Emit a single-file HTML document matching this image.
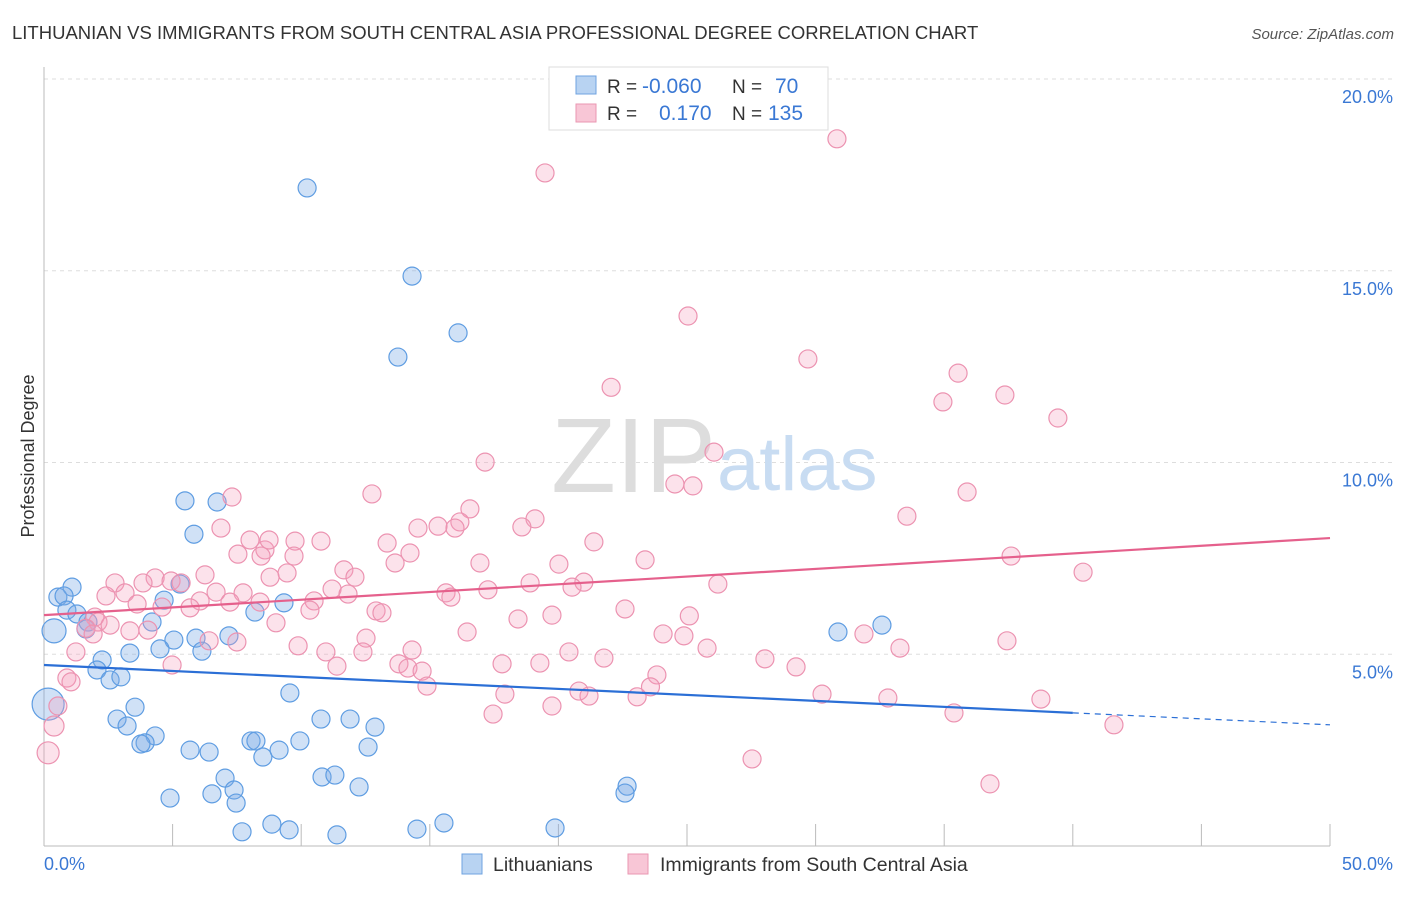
<!DOCTYPE html>
<html><head><meta charset="utf-8"><style>
body{margin:0;background:#fff;font-family:"Liberation Sans",sans-serif;}
svg text{font-family:"Liberation Sans",sans-serif;}
</style></head><body>
<svg id="chart" width="1406" height="892" xmlns="http://www.w3.org/2000/svg">
<text x="12" y="39" font-size="18.5" fill="#333">LITHUANIAN VS IMMIGRANTS FROM SOUTH CENTRAL ASIA PROFESSIONAL DEGREE CORRELATION CHART</text>
<text x="1394" y="39" font-size="15" fill="#555" text-anchor="end" font-style="italic">Source: ZipAtlas.com</text>
<text x="34" y="456" font-size="18" fill="#333" text-anchor="middle" transform="rotate(-90 34 456)">Professional Degree</text>
<g id="grid"></g>
<text x="716" y="492" font-size="106" fill="#ddd" text-anchor="end" font-family="Liberation Serif">ZIP</text>
<text x="717" y="490" font-size="76" fill="#c8dcf2">atlas</text>
<g id="pts"></g>
<g id="lines"></g>
<g id="ticks"></g>
<g>
<rect x="549" y="67" width="279" height="63" fill="#fff" stroke="#ddd"/>
<rect x="576" y="76" width="20" height="18" fill="#b8d3f2" stroke="#6fa3e0"/>
<rect x="576" y="104" width="20" height="18" fill="#f8c6d6" stroke="#ea97b2"/>
<text x="607" y="93" font-size="19" fill="#333">R = </text><text x="642" y="93" font-size="21" fill="#3a78d4">-0.060</text>
<text x="732" y="93" font-size="19" fill="#333">N = </text><text x="775" y="93" font-size="21" fill="#3a78d4">70</text>
<text x="607" y="120" font-size="19" fill="#333">R = </text><text x="659" y="120" font-size="21" fill="#3a78d4">0.170</text>
<text x="732" y="120" font-size="19" fill="#333">N = </text><text x="768" y="120" font-size="21" fill="#3a78d4">135</text>
</g>
<g>
<rect x="462" y="854" width="20" height="20" fill="#b8d3f2" stroke="#6fa3e0"/>
<text x="493" y="871" font-size="19.5" fill="#333">Lithuanians</text>
<rect x="628" y="854" width="20" height="20" fill="#f8c6d6" stroke="#ea97b2"/>
<text x="660" y="871" font-size="19.5" fill="#333">Immigrants from South Central Asia</text>
</g>
</svg>
<script>
const blueX=[10.23,14.31,16.10,13.76,5.48,6.73,5.83,1.09,0.54,0.78,0.89,1.28,0.39,1.71,1.63,4.20,4.67,5.29,8.20,9.33,5.91,5.05,4.51,6.14,7.19,3.34,2.26,2.06,2.57,2.99,0.16,9.56,3.54,2.84,3.23,4.32,3.93,3.77,5.68,6.42,8.05,8.24,8.51,9.14,9.95,10.77,11.90,12.87,12.60,7.04,6.53,7.39,7.47,4.90,10.81,11.31,12.25,7.70,8.86,9.53,11.39,14.50,15.55,19.87,22.67,22.59,30.87,32.58];
const blueY=[17.16,14.86,13.38,12.75,9.00,8.97,8.13,6.75,6.49,6.52,6.15,6.05,5.61,5.84,5.66,5.84,6.41,6.83,6.10,6.34,5.42,5.37,5.14,5.08,5.48,5.03,4.85,4.59,4.33,4.41,3.70,3.99,3.62,3.31,3.13,2.87,2.69,2.66,2.50,2.45,2.74,2.74,2.32,2.50,2.74,3.31,3.31,3.10,2.58,1.77,1.36,1.46,1.12,1.25,1.80,1.85,1.54,0.37,0.57,0.42,0.29,0.44,0.60,0.47,1.56,1.38,5.58,5.76];
const pinkX=[30.83,19.48,25.04,29.70,35.54,22.05,34.95,37.36,39.42,26.05,17.15,24.53,25.23,35.89,7.31,12.75,16.56,33.55,19.09,15.32,16.17,14.54,15.98,18.58,6.88,8.59,8.01,8.75,9.76,10.77,13.34,21.38,7.54,8.44,9.72,14.23,23.37,37.60,16.95,20.02,11.66,13.65,40.40,9.45,6.26,4.32,8.79,12.09,4.94,5.33,2.76,3.85,26.20,18.90,20.99,20.53,17.26,11.20,3.15,2.41,6.69,7.74,8.40,11.82,15.63,15.82,3.62,6.07,5.68,10.50,4.59,7.23,10.34,12.91,13.14,22.59,25.09,19.75,18.43,1.98,2.10,2.57,1.63,1.91,4.04,3.34,9.02,7.50,12.52,16.45,24.07,24.88,31.88,37.44,6.42,9.88,10.96,12.40,14.31,20.41,25.78,33.28,1.24,4.98,11.39,13.80,14.15,14.70,17.81,19.28,21.77,28.03,29.24,23.83,0.89,1.05,14.89,23.58,17.92,20.80,21.19,23.06,30.25,32.81,38.76,19.75,17.46,35.38,41.60,0.54,0.39,0.16,27.53,36.78];
const pinkY=[18.44,17.55,13.82,12.70,12.33,11.96,11.58,11.76,11.16,10.27,10.01,9.44,9.39,9.23,9.10,9.18,8.79,8.60,8.53,8.34,8.45,8.29,8.29,8.32,8.29,7.72,7.98,7.98,7.95,7.95,7.90,7.93,7.61,7.56,7.56,7.64,7.46,7.56,7.38,7.35,7.20,7.38,7.14,7.12,7.07,6.99,7.01,7.01,6.91,6.86,6.86,6.86,6.83,6.86,6.88,6.75,6.68,6.70,6.60,6.52,6.62,6.60,6.36,6.57,6.60,6.49,6.31,6.39,6.21,6.39,6.23,6.36,6.15,6.13,6.08,6.18,6.00,6.02,5.92,5.97,5.84,5.76,5.68,5.53,5.63,5.61,5.82,5.32,5.42,5.58,5.53,5.48,5.53,5.35,5.35,5.22,5.06,5.06,5.11,5.06,5.16,5.16,5.06,4.72,4.69,4.75,4.64,4.56,4.75,4.77,4.90,4.88,4.67,4.46,4.38,4.28,4.17,4.15,3.96,4.04,3.91,3.89,3.96,3.86,3.83,3.65,3.44,3.47,3.16,3.65,3.13,2.43,2.27,1.62];
const blueTrend=[4.72,3.16];
const pinkTrend=[6.02,8.03];
const yTicks=[5,10,15,20];
const yTickLabels=["5.0%","10.0%","15.0%","20.0%"];
const xTickLabels=["0.0%","50.0%"];
const NS="http://www.w3.org/2000/svg";
const X0=44,X1=1330,Y0=846,Y20=79;
const sx=v=>X0+(X1-X0)*v/50;
const sy=v=>Y0-(Y0-Y20)*v/20;
function mk(t,a,p){const e=document.createElementNS(NS,t);for(const k in a)e.setAttribute(k,a[k]);p.appendChild(e);return e;}
const grid=document.getElementById('grid');
yTicks.forEach(t=>{const l=mk('line',{x1:X0,x2:1394,y1:sy(t),y2:sy(t),stroke:'#ddd','stroke-dasharray':'4,4'},grid);

});
mk('line',{x1:X0,x2:X0,y1:67,y2:Y0,stroke:'#bbb'},grid);
mk('line',{x1:X0,x2:X1,y1:Y0,y2:Y0,stroke:'#bbb'},grid);
for(let i=1;i<=10;i++){mk('line',{x1:sx(i*5),x2:sx(i*5),y1:Y0-22,y2:Y0,stroke:'#bbb'},grid);}
const pts=document.getElementById('pts');
blueX.forEach((x,i)=>{const r=i===30?16:(i===12?12:9);
const c=mk('circle',{cx:sx(x),cy:sy(blueY[i]),r:r,fill:'rgba(120,170,230,0.35)',stroke:'#5f9de2','stroke-width':1.2},pts);

});
const nP=pinkX.length;
pinkX.forEach((x,i)=>{const r=i===nP-3?11:(i===nP-4?10:9);
const c=mk('circle',{cx:sx(x),cy:sy(pinkY[i]),r:r,fill:'rgba(244,160,188,0.3)',stroke:'#ec93b1','stroke-width':1.2},pts);

});
const ln=document.getElementById('lines');
const bAt=v=>blueTrend[0]+(blueTrend[1]-blueTrend[0])*v/50;
const pAt=v=>pinkTrend[0]+(pinkTrend[1]-pinkTrend[0])*v/50;
let e=mk('line',{x1:sx(0),y1:sy(bAt(0)),x2:sx(40),y2:sy(bAt(40)),stroke:'#2b6fd6','stroke-width':2.2},ln);


e=mk('line',{x1:sx(40),y1:sy(bAt(40)),x2:sx(50),y2:sy(bAt(50)),stroke:'#2b6fd6','stroke-width':1.2,'stroke-dasharray':'6,5'},ln);


e=mk('line',{x1:sx(0),y1:sy(pAt(0)),x2:sx(50),y2:sy(pAt(50)),stroke:'#e5608c','stroke-width':2.2},ln);


const tk=document.getElementById('ticks');
yTicks.forEach((t,i)=>{const tx=mk('text',{x:1393,y:sy(t)+24,'font-size':18,fill:'#3a78d4','text-anchor':'end'},tk);tx.textContent=yTickLabels[i];

});
let t1=mk('text',{x:44,y:870,'font-size':18,fill:'#3a78d4'},tk);t1.textContent=xTickLabels[0];


let t2=mk('text',{x:1393,y:870,'font-size':18,fill:'#3a78d4','text-anchor':'end'},tk);t2.textContent=xTickLabels[1];


</script>
</body></html>
